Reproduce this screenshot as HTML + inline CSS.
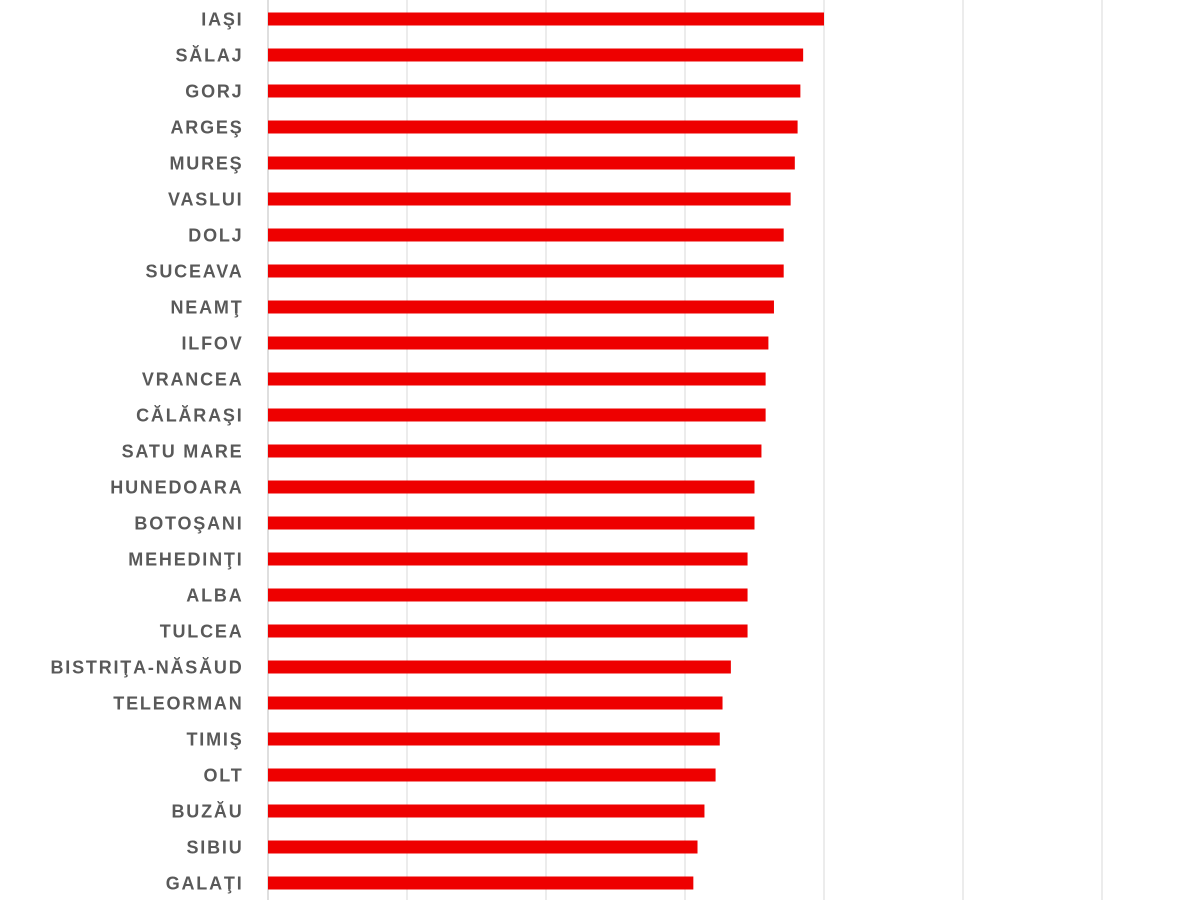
<!DOCTYPE html>
<html><head><meta charset="utf-8"><style>
html,body{margin:0;padding:0;background:#fff;width:1200px;height:900px;overflow:hidden}
text{font-family:"Liberation Sans",sans-serif}
</style></head><body>
<svg id="chart" width="1200" height="900" xmlns="http://www.w3.org/2000/svg"></svg>
<script>
const categories=["IAŞI","SĂLAJ","GORJ","ARGEŞ","MUREŞ","VASLUI","DOLJ","SUCEAVA","NEAMŢ","ILFOV","VRANCEA","CĂLĂRAŞI","SATU MARE","HUNEDOARA","BOTOŞANI","MEHEDINŢI","ALBA","TULCEA","BISTRIŢA-NĂSĂUD","TELEORMAN","TIMIŞ","OLT","BUZĂU","SIBIU","GALAŢI"];
const values=[40.0,38.5,38.3,38.1,37.9,37.6,37.1,37.1,36.4,36.0,35.8,35.8,35.5,35.0,35.0,34.5,34.5,34.5,33.3,32.7,32.5,32.2,31.4,30.9,30.6];
const gridTicks=[0,10,20,30,40,50,60];
const NS="http://www.w3.org/2000/svg";
const svg=document.getElementById('chart');
const x0=268,unit=13.9;
const xScale=v=>x0+v*unit;
const yScale=i=>19+i*36;
function mk(t,a){const e=document.createElementNS(NS,t);for(const k in a)e.setAttribute(k,a[k]);svg.appendChild(e);return e;}
gridTicks.forEach((t,i)=>{
  const l=mk('line',{x1:xScale(t),x2:xScale(t),y1:0,y2:900,stroke:i===0?'#bfbfbf':'#d9d9d9','stroke-width':1});
  
  
});
categories.forEach((c,i)=>{
  const y=yScale(i);
  const r=mk('rect',{x:x0,y:y-6.5,width:xScale(values[i])-x0,height:13,fill:'#ee0000'});
  
  
  const t=mk('text',{x:243.5,y:y+6.5,'text-anchor':'end','font-size':18,'font-weight':'bold','letter-spacing':1.8,fill:'#595959'});
  t.textContent=c;
  
  
});
</script>
</body></html>
